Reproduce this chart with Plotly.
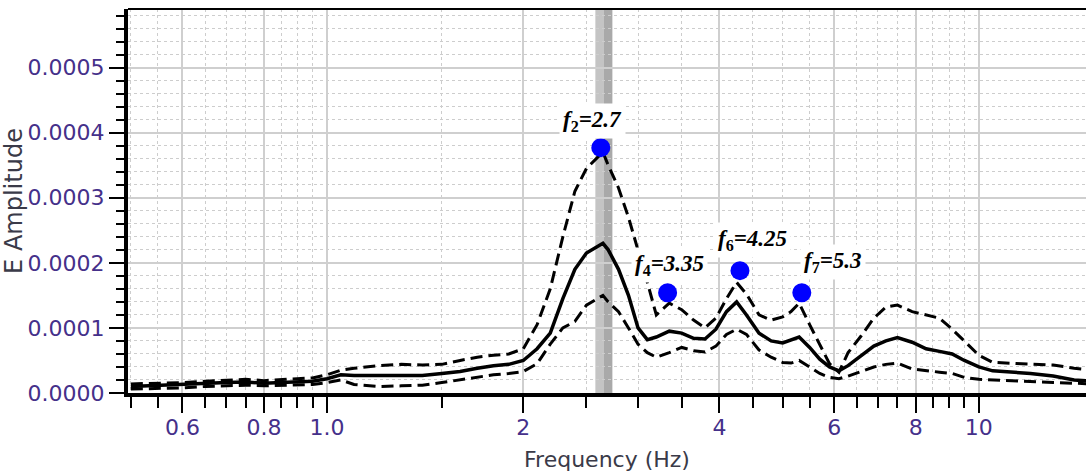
import numpy as np
import plotly.graph_objects as go

# ---- data (amplitudes in units of 1e-4) ----
freq = [0.5, 0.55, 0.6, 0.65, 0.7, 0.75, 0.8, 0.85, 0.9, 0.95, 1.0, 1.05, 1.1, 1.2, 1.3, 1.4, 1.5,
        1.6, 1.7, 1.8, 1.9, 2.0, 2.1, 2.2, 2.3, 2.4, 2.5, 2.6, 2.65, 2.7, 2.8, 2.9, 3.0, 3.1, 3.2,
        3.35, 3.5, 3.65, 3.8, 3.95, 4.1, 4.25, 4.4, 4.6, 4.8, 5.0, 5.15, 5.3, 5.5, 5.7, 5.9, 6.1,
        6.3, 6.6, 6.9, 7.2, 7.5, 7.9, 8.3, 8.7, 9.1, 9.5, 10.0, 10.5, 11.2, 12.0, 13.0, 14.0, 15.0]

mean_amp = [0.10, 0.12, 0.13, 0.15, 0.16, 0.17, 0.15, 0.16, 0.17, 0.18, 0.22, 0.28, 0.27, 0.27, 0.26,
            0.27, 0.30, 0.33, 0.38, 0.42, 0.44, 0.50, 0.68, 0.92, 1.45, 1.90, 2.15, 2.25, 2.30, 2.20,
            1.90, 1.50, 1.00, 0.82, 0.86, 0.95, 0.92, 0.84, 0.83, 0.98, 1.25, 1.40, 1.20, 0.92, 0.80,
            0.77, 0.82, 0.86, 0.70, 0.52, 0.40, 0.34, 0.42, 0.58, 0.72, 0.80, 0.85, 0.78, 0.68, 0.64,
            0.60, 0.50, 0.40, 0.34, 0.32, 0.30, 0.26, 0.20, 0.18]

upper_amp = [0.14, 0.15, 0.16, 0.18, 0.20, 0.21, 0.19, 0.20, 0.22, 0.23, 0.28, 0.35, 0.38, 0.42, 0.44,
             0.43, 0.44, 0.50, 0.55, 0.58, 0.60, 0.68, 1.05, 1.60, 2.40, 3.10, 3.45, 3.62, 3.70, 3.50,
             3.15, 2.70, 2.20, 1.70, 1.20, 1.38, 1.28, 1.12, 1.00, 1.15, 1.45, 1.70, 1.52, 1.20, 1.12,
             1.17, 1.25, 1.38, 1.05, 0.75, 0.45, 0.32, 0.62, 0.88, 1.15, 1.32, 1.35, 1.25, 1.20, 1.15,
             0.98, 0.80, 0.58, 0.47, 0.46, 0.44, 0.43, 0.38, 0.35]

lower_amp = [0.06, 0.07, 0.08, 0.10, 0.11, 0.12, 0.11, 0.12, 0.12, 0.13, 0.16, 0.20, 0.13, 0.10, 0.11,
             0.12, 0.16, 0.20, 0.24, 0.28, 0.30, 0.33, 0.45, 0.75, 1.00, 1.10, 1.35, 1.45, 1.50, 1.40,
             1.25, 1.00, 0.75, 0.62, 0.55, 0.62, 0.70, 0.65, 0.63, 0.72, 0.90, 0.98, 0.90, 0.66, 0.55,
             0.47, 0.46, 0.50, 0.40, 0.30, 0.24, 0.22, 0.26, 0.33, 0.40, 0.44, 0.46, 0.37, 0.34, 0.32,
             0.30, 0.24, 0.21, 0.20, 0.19, 0.17, 0.16, 0.15, 0.14]

peak_freq = [2.63, 3.33, 4.30, 5.35]
peak_amp = [3.77, 1.54, 1.88, 1.54]
peak_labels = ["<b><i>f</i><sub>2</sub><i>=2.7</i></b>", "<b><i>f</i><sub>4</sub><i>=3.35</i></b>",
               "<b><i>f</i><sub>6</sub><i>=4.25</i></b>", "<b><i>f</i><sub>7</sub><i>=5.3</i></b>"]
label_shift_x = [-8, 2, 13, 31]
label_shift_y = [27, 28, 31, 31]

band_freq = [2.58, 2.66, 2.74]

x_tickvals = [0.6, 0.8, 1.0, 2, 4, 6, 8, 10]
x_ticktext = ["0.6", "0.8", "1.0", "2", "4", "6", "8", "10"]
x_minorvals = [0.5, 0.55, 0.65, 0.7, 0.75, 0.85, 0.9, 0.95, 1.5, 2.5, 3, 3.5, 4.5, 5, 5.5,
               6.5, 7, 7.5, 8.5, 9, 9.5, 15]

scale = 1e-4
f = np.array(freq)

fig = go.Figure()
dash_style = "12px,6px"
fig.add_trace(go.Scatter(x=f, y=np.array(upper_amp) * scale, mode="lines",
                         line=dict(color="black", width=3, dash=dash_style), showlegend=False))
fig.add_trace(go.Scatter(x=f, y=np.array(lower_amp) * scale, mode="lines",
                         line=dict(color="black", width=3, dash=dash_style), showlegend=False))
fig.add_trace(go.Scatter(x=f, y=np.array(mean_amp) * scale, mode="lines",
                         line=dict(color="black", width=3.5), showlegend=False))
fig.add_trace(go.Scatter(x=peak_freq, y=np.array(peak_amp) * scale, mode="markers",
                         marker=dict(color="#0000ff", size=19), showlegend=False))

# gray band around f2
fig.add_shape(type="rect", xref="x", yref="paper", x0=band_freq[0], x1=band_freq[1], y0=0, y1=1,
              fillcolor="#c4c4c4", line_width=0, layer="between")
fig.add_shape(type="rect", xref="x", yref="paper", x0=band_freq[1], x1=band_freq[2], y0=0, y1=1,
              fillcolor="#a9a9a9", line_width=0, layer="between")
# top frame line
fig.add_shape(type="line", xref="paper", yref="paper", x0=0, x1=1, y0=1, y1=1,
              line=dict(color="black", width=2), layer="above")

for fx, fy, txt, sx, sy in zip(peak_freq, peak_amp, peak_labels, label_shift_x, label_shift_y):
    fig.add_annotation(x=np.log10(fx), y=fy * scale, text=txt, showarrow=False,
                       xshift=sx, yshift=sy, bgcolor="white", borderpad=3,
                       font=dict(family="Liberation Serif", size=23, color="black"))

tick_font = dict(family="DejaVu Sans", size=22, color="#45308a")
fig.update_xaxes(type="log", range=[np.log10(0.495), np.log10(14.6)], automargin=False,
                 tickmode="array", tickvals=x_tickvals, ticktext=x_ticktext,
                 ticks="outside", ticklen=16, tickwidth=2, tickcolor="black",
                 showline=True, linecolor="black", linewidth=4,
                 showgrid=True, gridcolor="#cfcfcf", gridwidth=2,
                 tickfont=tick_font, ticklabelstandoff=-4,
                 minor=dict(tickmode="array", tickvals=x_minorvals, ticks="outside", ticklen=11,
                            tickwidth=2, tickcolor="black", showgrid=True, gridcolor="#cdcdcd",
                            griddash="dot", gridwidth=1),
                 title=dict(text="Frequency (Hz)", font=dict(family="DejaVu Sans", size=22, color="#3a3a48"),
                            standoff=13),
                 zeroline=False)
fig.update_yaxes(range=[0, 0.00059], tickmode="linear", tick0=0, dtick=0.0001, tickformat=".4f",
                 automargin=False,
                 ticks="outside", ticklen=15, tickwidth=2, tickcolor="black",
                 showline=True, linecolor="black", linewidth=4,
                 showgrid=True, gridcolor="#cfcfcf", gridwidth=2,
                 tickfont=tick_font,
                 minor=dict(dtick=0.00002, ticks="outside", ticklen=8, tickwidth=2, tickcolor="black",
                            showgrid=True, gridcolor="#cdcdcd", griddash="dot", gridwidth=1),
                 title=dict(text="E Amplitude", font=dict(family="DejaVu Sans", size=24, color="#3a3a48"),
                            standoff=2),
                 zeroline=False)

fig.update_layout(width=1086, height=475, margin=dict(l=128, r=0, t=9, b=82),
                  plot_bgcolor="white", paper_bgcolor="white")
fig.write_html("out.html", config={"displayModeBar": False},
               post_script="document.body.style.margin='0';")
